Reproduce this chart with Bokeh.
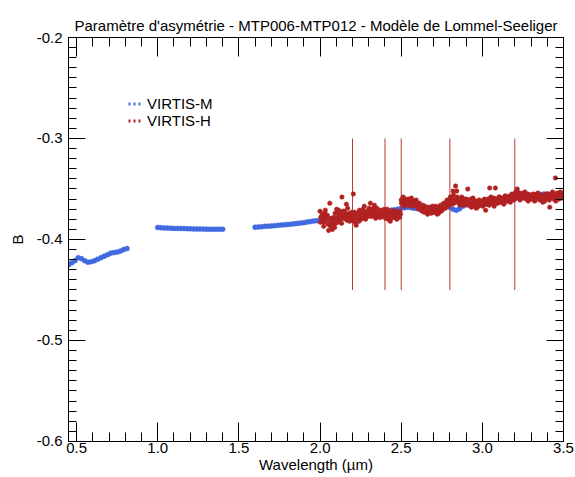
import numpy as np
from bokeh.plotting import figure
from bokeh.models import (LinearAxis, SingleIntervalTicker, PrintfTickFormatter,
                          CustomJSTickFormatter, Legend, LegendItem, Range1d)
from bokeh.embed import file_html
from bokeh.resources import INLINE

# ---------------- data ----------------
# VIRTIS-M (blue), three spectral segments, step 0.02 um
m1_start, m1_stop = 0.45, 0.81
m1_b = [-0.425, -0.423, -0.421, -0.418, -0.419, -0.421, -0.4225, -0.422, -0.421, -0.4195,
        -0.418, -0.4165, -0.415, -0.4135, -0.413, -0.4125, -0.4115, -0.410, -0.409]
m2_start, m2_stop = 1.00, 1.40
m2_b = [-0.3881, -0.3883, -0.3885, -0.3887, -0.3888, -0.389, -0.389, -0.3891, -0.3892, -0.3893,
        -0.3894, -0.3895, -0.3896, -0.3897, -0.3897, -0.3898, -0.3898, -0.3898, -0.3898, -0.3898,
        -0.3898]
m3_start, m3_stop = 1.60, 3.50
m3_b = [-0.3878, -0.3876, -0.3873, -0.3870, -0.3868, -0.3866, -0.3863, -0.3860, -0.3857, -0.3855,
        -0.3851, -0.3848, -0.3845, -0.3841, -0.3837, -0.3833, -0.3828, -0.3823, -0.3818, -0.3814,
        -0.3810, -0.3806, -0.3802, -0.3800, -0.3795, -0.3790, -0.3785, -0.3780, -0.3775, -0.3770,
        -0.3765, -0.3760, -0.3755, -0.3750, -0.3748, -0.3745, -0.3740, -0.3736, -0.3730, -0.3725,
        -0.3720, -0.3715, -0.3710, -0.3705, -0.3700, -0.3690, -0.3685, -0.3680, -0.3685, -0.3690,
        -0.3695, -0.3700, -0.3698, -0.3695, -0.3690, -0.3688, -0.3685, -0.3680, -0.3675, -0.3670,
        -0.3680, -0.3700, -0.3710, -0.3695, -0.3670, -0.3655, -0.3650, -0.3645, -0.3640, -0.3638,
        -0.3635, -0.3630, -0.3635, -0.3640, -0.3632, -0.3625, -0.3620, -0.3612, -0.3605, -0.3600,
        -0.3595, -0.3590, -0.3585, -0.3580, -0.3575, -0.3570, -0.3565, -0.3560, -0.3555, -0.3550,
        -0.3555, -0.3560, -0.3562, -0.3560, -0.3565, -0.3570]

# VIRTIS-H (red), 2.0 - 3.5 um, step 0.005 um
h_start, h_stop = 2.0, 3.5
h_b = [
    -0.372, -0.378, -0.381, -0.375, -0.379, -0.383, -0.374, -0.377, -0.380, -0.376,
    -0.385, -0.379, -0.364, -0.387, -0.383, -0.390, -0.381, -0.378, -0.388, -0.384,
    -0.379, -0.374, -0.383, -0.371, -0.377, -0.380, -0.373, -0.358, -0.376, -0.379,
    -0.372, -0.378, -0.375, -0.381, -0.369, -0.377, -0.374, -0.380, -0.376, -0.373,
    -0.378, -0.355, -0.381, -0.375, -0.384, -0.377, -0.379, -0.374, -0.382, -0.376,
    -0.373, -0.379, -0.376, -0.370, -0.378, -0.374, -0.380, -0.375, -0.372, -0.377,
    -0.371, -0.375, -0.364, -0.373, -0.377, -0.370, -0.374, -0.366, -0.376, -0.372,
    -0.369, -0.375, -0.373, -0.378, -0.371, -0.374, -0.377, -0.372, -0.375, -0.370,
    -0.376, -0.372, -0.378, -0.374, -0.380, -0.373, -0.377, -0.375, -0.379, -0.371,
    -0.376, -0.378, -0.373, -0.377, -0.374, -0.379, -0.372, -0.376, -0.378, -0.375,
    -0.361, -0.364, -0.359, -0.363, -0.366, -0.360, -0.362, -0.365, -0.361, -0.363,
    -0.366, -0.362, -0.364, -0.361, -0.367, -0.363, -0.365, -0.362, -0.366, -0.364,
    -0.365, -0.368, -0.366, -0.370, -0.367, -0.369, -0.372, -0.368, -0.371, -0.367,
    -0.370, -0.373, -0.369, -0.371, -0.368, -0.372, -0.370, -0.374, -0.369, -0.371,
    -0.371, -0.369, -0.373, -0.370, -0.372, -0.368, -0.374, -0.371, -0.369, -0.372,
    -0.367, -0.369, -0.365, -0.368, -0.364, -0.366, -0.363, -0.367, -0.362, -0.365,
    -0.362, -0.359, -0.363, -0.360, -0.352, -0.364, -0.361, -0.347, -0.362, -0.358,
    -0.363, -0.360, -0.365, -0.361, -0.364, -0.359, -0.362, -0.366, -0.360, -0.363,
    -0.364, -0.361, -0.350, -0.365, -0.362, -0.366, -0.360, -0.363, -0.367, -0.361,
    -0.365, -0.362, -0.366, -0.363, -0.368, -0.364, -0.361, -0.365, -0.362, -0.366,
    -0.363, -0.366, -0.361, -0.364, -0.371, -0.362, -0.365, -0.360, -0.363, -0.349,
    -0.361, -0.364, -0.360, -0.363, -0.359, -0.362, -0.349, -0.361, -0.364, -0.360,
    -0.361, -0.358, -0.363, -0.360, -0.362, -0.359, -0.364, -0.360, -0.357, -0.361,
    -0.359, -0.362, -0.358, -0.361, -0.357, -0.360, -0.356, -0.359, -0.357, -0.360,
    -0.356, -0.353, -0.357, -0.350, -0.355, -0.358, -0.354, -0.356, -0.359, -0.355,
    -0.357, -0.354, -0.358, -0.356, -0.360, -0.357, -0.355, -0.359, -0.356, -0.358,
    -0.357, -0.360, -0.356, -0.359, -0.358, -0.361, -0.357, -0.355, -0.359, -0.356,
    -0.358, -0.361, -0.357, -0.360, -0.356, -0.359, -0.357, -0.362, -0.358, -0.355,
    -0.358, -0.355, -0.359, -0.368, -0.356, -0.358, -0.354, -0.357, -0.360, -0.356,
    -0.339, -0.357, -0.354, -0.358, -0.355, -0.357, -0.353, -0.356, -0.358, -0.354,
    -0.356,
]
# second VIRTIS-H sampling, 2.0025 - 3.4925 um, step 0.01 um
h2_start, h2_stop = 2.0025, 3.4925
h2_b = [
    -0.383, -0.376, -0.387, -0.371, -0.380, -0.391, -0.385, -0.379, -0.386, -0.374,
    -0.370, -0.381, -0.376, -0.384, -0.372, -0.379, -0.365, -0.377, -0.382, -0.375,
    -0.381, -0.373, -0.386, -0.377, -0.371, -0.380, -0.375, -0.367, -0.379, -0.374,
    -0.369, -0.377, -0.372, -0.368, -0.379, -0.375, -0.371, -0.378, -0.373, -0.376,
    -0.379, -0.370, -0.376, -0.382, -0.374, -0.378, -0.372, -0.380, -0.377, -0.373,
    -0.364, -0.358, -0.367, -0.362, -0.360, -0.365, -0.359, -0.366, -0.363, -0.361,
    -0.369, -0.364, -0.371, -0.366, -0.373, -0.368, -0.375, -0.370, -0.372, -0.367,
    -0.373, -0.367, -0.375, -0.370, -0.366, -0.371, -0.364, -0.369, -0.361, -0.366,
    -0.358, -0.365, -0.356, -0.363, -0.352, -0.360, -0.366, -0.358, -0.364, -0.361,
    -0.360, -0.366, -0.362, -0.368, -0.359, -0.364, -0.369, -0.362, -0.366, -0.363,
    -0.367, -0.360, -0.365, -0.362, -0.366, -0.358, -0.363, -0.367, -0.360, -0.364,
    -0.358, -0.363, -0.360, -0.365, -0.357, -0.362, -0.359, -0.363, -0.355, -0.361,
    -0.359, -0.352, -0.357, -0.361, -0.355, -0.359, -0.353, -0.358, -0.362, -0.356,
    -0.360, -0.355, -0.362, -0.357, -0.354, -0.360, -0.358, -0.363, -0.356, -0.359,
    -0.355, -0.361, -0.357, -0.353, -0.359, -0.362, -0.356, -0.360, -0.354, -0.359,
]

# vertical markers (wavelengths) and their extent in B
vline_x = [2.2, 2.4, 2.5, 2.8, 3.2]
vline_top = -0.30
vline_bottom = -0.45

x_ticks_step = 0.5
y_ticks_step = 0.1

BLUE = "#4169E1"
RED = "#B22222"
FONT = "Liberation Sans"
FS = "15px"

# ---------------- figure ----------------
p = figure(width=575, height=477, x_range=Range1d(0.45, 3.5), y_range=Range1d(-0.60001, -0.2),
           output_backend="svg", toolbar_location=None,
           min_border_left=68, min_border_right=12, min_border_top=37, min_border_bottom=36)
p.background_fill_color = "white"
p.border_fill_color = "white"
p.outline_line_color = "black"
p.grid.visible = False

p.title.text = "Paramètre d'asymétrie - MTP006-MTP012 - Modèle de Lommel-Seeliger"
p.title.align = "center"
p.title.vertical_align = "top"
p.title.text_font = FONT
p.title.text_font_size = FS
p.title.text_font_style = "normal"
p.title.text_color = "black"
p.title.standoff = 4

def style_axis(ax, tick_major, tick_minor, labels=True):
    ax.major_tick_in = tick_major
    ax.major_tick_out = 0
    ax.minor_tick_in = tick_minor
    ax.minor_tick_out = 0
    ax.axis_line_color = "black"
    ax.major_tick_line_color = "black"
    ax.minor_tick_line_color = "black"
    ax.major_label_text_font = FONT
    ax.major_label_text_color = "black"
    ax.axis_label_text_font = FONT
    ax.axis_label_text_font_style = "normal"
    ax.axis_label_text_color = "black"
    if not labels:
        ax.formatter = CustomJSTickFormatter(code="return ''")
        ax.major_label_standoff = 0

xticker = SingleIntervalTicker(interval=x_ticks_step, num_minor_ticks=5)
yticker = SingleIntervalTicker(interval=y_ticks_step, num_minor_ticks=10)
fmt = PrintfTickFormatter(format="%.1f")

xa = p.xaxis[0]
xa.ticker = xticker
xa.formatter = fmt
xa.axis_label = "Wavelength (µm)"
style_axis(xa, 19, 9)
xa.major_label_text_font_size = FS
xa.axis_label_text_font_size = FS
xa.major_label_standoff = 1
xa.axis_label_standoff = 0

ya = p.yaxis[0]
ya.ticker = yticker
ya.formatter = fmt
ya.axis_label = "B"
style_axis(ya, 17, 8)
ya.major_label_text_font_size = FS
ya.axis_label_text_font_size = FS
ya.major_label_standoff = 6
ya.axis_label_standoff = 8

top = LinearAxis(ticker=SingleIntervalTicker(interval=x_ticks_step, num_minor_ticks=5))
style_axis(top, 19, 9, labels=False)
p.add_layout(top, "above")
right = LinearAxis(ticker=SingleIntervalTicker(interval=y_ticks_step, num_minor_ticks=10))
style_axis(right, 17, 8, labels=False)
p.add_layout(right, "right")

# ---------------- data glyphs ----------------
mx1 = np.linspace(m1_start, m1_stop, len(m1_b))
mx2 = np.linspace(m2_start, m2_stop, len(m2_b))
mx3 = np.linspace(m3_start, m3_stop, len(m3_b))
hx = np.linspace(h_start, h_stop, len(h_b))
hx2 = np.linspace(h2_start, h2_stop, len(h2_b))

for xs, ys in ((mx1, m1_b), (mx2, m2_b), (mx3, m3_b)):
    p.scatter(xs, ys, marker="circle", size=5, fill_color=BLUE, line_color=BLUE, line_width=0.5)

p.scatter(hx, h_b, marker="circle", size=4.5, fill_color=RED, line_color=RED, line_width=0.5)
p.scatter(hx2, h2_b, marker="circle", size=4.5, fill_color=RED, line_color=RED, line_width=0.5)

p.segment(x0=vline_x, y0=[vline_bottom] * len(vline_x), x1=vline_x, y1=[vline_top] * len(vline_x),
          line_color=RED, line_width=1, line_alpha=0.9)

# ---------------- legend ----------------
leg_m = p.line([np.nan], [np.nan], line_color=BLUE, line_width=3, line_dash="2 3")
leg_h = p.line([np.nan], [np.nan], line_color=RED, line_width=3, line_dash="2 3")
legend = Legend(items=[LegendItem(label="VIRTIS-M", renderers=[leg_m]),
                       LegendItem(label="VIRTIS-H", renderers=[leg_h])],
                location=(60, 312))
legend.border_line_alpha = 0
legend.background_fill_alpha = 0
legend.label_text_font = FONT
legend.label_text_font_size = FS
legend.label_text_color = "black"
legend.glyph_width = 15
legend.glyph_height = 17
legend.label_height = 17
legend.label_standoff = 4
legend.spacing = 0
legend.padding = 0
legend.margin = 0
p.add_layout(legend, "center")

open("out.html", "w").write(file_html(p, INLINE))
